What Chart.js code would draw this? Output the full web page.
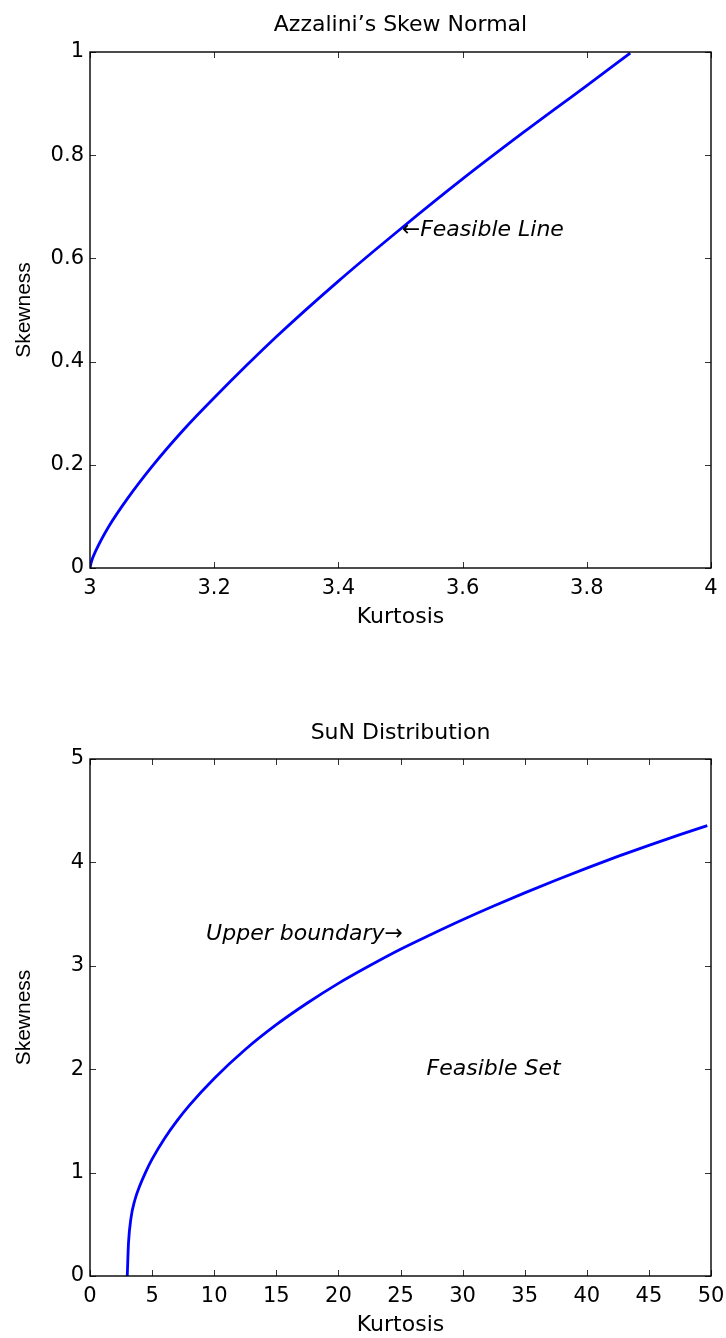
<!DOCTYPE html>
<html>
<head>
<meta charset="utf-8">
<script src="https://cdn.jsdelivr.net/npm/chart.js@4/dist/chart.umd.min.js"></script>
<style>
    body { margin: 0; background: #fff; }
    canvas { position: absolute; left: 0; }
    #skew-chart { top: 0; }
    #sun-chart { top: 706px; }
</style>
</head>
<body>
<canvas id="skew-chart" width="726" height="630"></canvas>
<canvas id="sun-chart" width="726" height="632"></canvas>
<script>
// Azzalini's skew normal: feasible line
const skewKurtosis = [3, 3.002, 3.01, 3.03, 3.06, 3.1, 3.15, 3.2, 3.3, 3.4, 3.5, 3.6, 3.7, 3.8, 3.87];
const skewSkewness = [0, 0.011, 0.035, 0.08, 0.134, 0.197, 0.267, 0.33, 0.448, 0.556, 0.657, 0.754, 0.846, 0.935, 0.998];

// SuN distribution: upper boundary
const sunKurtosis = [3, 3.1, 3.3, 3.6, 4, 4.5, 5, 6, 7, 8, 10, 12.5, 15, 17.5, 20, 22.5, 25, 27.5, 30, 32.5, 35, 37.5, 40, 42.5, 45, 47.5, 49.7];
const sunSkewness = [0, 0.32, 0.56, 0.73, 0.87, 1.01, 1.13, 1.33, 1.5, 1.65, 1.91, 2.19, 2.43, 2.64, 2.83, 3.0, 3.16, 3.305, 3.445, 3.578, 3.705, 3.828, 3.945, 4.058, 4.165, 4.268, 4.356];

const skewXTicks = [3, 3.2, 3.4, 3.6, 3.8, 4];
const skewYTicks = [0, 0.2, 0.4, 0.6, 0.8, 1];
const sunXTicks = [0, 5, 10, 15, 20, 25, 30, 35, 40, 45, 50];
const sunYTicks = [0, 1, 2, 3, 4, 5];

// text notes: [label, kurtosis, skewness, align]
const skewNotes = [['\u2190Feasible Line', 3.502, 0.655, 'left']];
const sunNotes = [
    ['Upper boundary\u2192', 25.2, 3.3, 'right'],
    ['Feasible Set', 27.1, 2.0, 'left']
];

const FONT = '"DejaVu Sans", Verdana, sans-serif';
const YFONT = '"Liberation Sans", Arial, sans-serif';

function toPoints(xs, ys) {
    return xs.map((x, i) => ({ x: x, y: ys[i] }));
}

// box round the plot and small inward tick marks, matlab style
const axesBox = {
    id: 'axesBox',
    afterDatasetsDraw(chart) {
        const ctx = chart.ctx;
        const a = chart.chartArea;
        const xs = chart.scales.x;
        const ys = chart.scales.y;
        ctx.save();
        ctx.strokeStyle = '#333';
        ctx.lineWidth = 1;
        ctx.beginPath();
        xs.ticks.forEach(t => {
            const px = Math.round(xs.getPixelForValue(t.value)) + 0.5;
            ctx.moveTo(px, a.bottom); ctx.lineTo(px, a.bottom - 6);
            ctx.moveTo(px, a.top); ctx.lineTo(px, a.top + 6);
        });
        ys.ticks.forEach(t => {
            const py = Math.round(ys.getPixelForValue(t.value)) + 0.5;
            ctx.moveTo(a.left, py); ctx.lineTo(a.left + 6, py);
            ctx.moveTo(a.right, py); ctx.lineTo(a.right - 6, py);
        });
        ctx.stroke();
        ctx.strokeStyle = '#000';
        ctx.lineWidth = 1.4;
        ctx.strokeRect(a.left, a.top, a.right - a.left, a.bottom - a.top);
        ctx.restore();
    }
};

const notesPlugin = {
    id: 'notes',
    afterDraw(chart, args, opts) {
        const ctx = chart.ctx;
        ctx.save();
        ctx.font = 'italic 22px ' + FONT;
        ctx.fillStyle = '#000';
        ctx.textBaseline = 'middle';
        (opts.items || []).forEach(n => {
            ctx.textAlign = n[3];
            ctx.fillText(n[0], chart.scales.x.getPixelForValue(n[1]), chart.scales.y.getPixelForValue(n[2]));
        });
        ctx.restore();
    }
};

function makeChart(id, title, xs, ys, xTicks, yTicks, notes, titlePad) {
    const tickFont = { family: FONT, size: 21 };
    return new Chart(document.getElementById(id), {
        type: 'line',
        data: {
            datasets: [{
                data: toPoints(xs, ys),
                borderColor: '#0000ff',
                borderWidth: 2.8,
                pointRadius: 0,
                cubicInterpolationMode: 'monotone',
                fill: false
            }]
        },
        options: {
            responsive: false,
            animation: false,
            devicePixelRatio: 1,
            layout: { padding: { left: 0, right: 15, top: 0, bottom: 0 } },
            plugins: {
                legend: { display: false },
                tooltip: { enabled: false },
                title: {
                    display: true,
                    fullSize: false,
                    text: title,
                    color: '#000',
                    font: { family: FONT, size: 22, weight: 'normal', lineHeight: 1.2 },
                    padding: titlePad
                },
                notes: { items: notes }
            },
            scales: {
                x: {
                    type: 'linear',
                    min: xTicks[0],
                    max: xTicks[xTicks.length - 1],
                    grid: { display: false, drawTicks: false },
                    border: { display: false },
                    afterBuildTicks: s => { s.ticks = xTicks.map(v => ({ value: v })); },
                    afterFit: s => { s.height = 62; s.paddingLeft = 0; s.paddingRight = 0; },
                    ticks: { color: '#000', font: tickFont, padding: 8, maxRotation: 0, callback: v => String(v) },
                    title: {
                        display: true,
                        text: 'Kurtosis',
                        color: '#000',
                        font: { family: FONT, size: 22, lineHeight: 1.2 },
                        padding: { top: 0, bottom: 0 }
                    }
                },
                y: {
                    type: 'linear',
                    min: yTicks[0],
                    max: yTicks[yTicks.length - 1],
                    grid: { display: false, drawTicks: false },
                    border: { display: false },
                    afterBuildTicks: s => { s.ticks = yTicks.map(v => ({ value: v })); },
                    afterFit: s => { s.width = 90; s.paddingTop = 0; s.paddingBottom = 0; },
                    ticks: { color: '#000', font: tickFont, padding: 6, callback: v => String(v) },
                    title: {
                        display: true,
                        text: 'Skewness',
                        color: '#000',
                        font: { family: YFONT, size: 21, lineHeight: 1.2 },
                        padding: { top: 12, bottom: 0 }
                    }
                }
            }
        },
        plugins: [axesBox, notesPlugin]
    });
}

document.addEventListener('DOMContentLoaded', () => {
    makeChart('skew-chart', 'Azzalini\u2019s Skew Normal', skewKurtosis, skewSkewness,
        skewXTicks, skewYTicks, skewNotes, { top: 12, bottom: 13.6 });
    makeChart('sun-chart', 'SuN Distribution', sunKurtosis, sunSkewness,
        sunXTicks, sunYTicks, sunNotes, { top: 14, bottom: 12.6 });
});
</script>
</body>
</html>
